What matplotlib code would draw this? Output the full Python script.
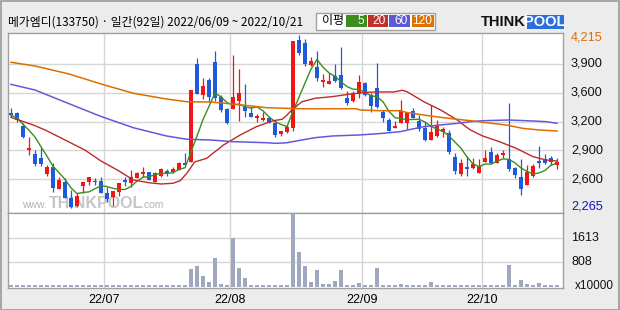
import numpy as np
import pandas as pd
import matplotlib
matplotlib.use('Agg')
import matplotlib.pyplot as plt
from matplotlib.patches import Rectangle
from matplotlib.transforms import blended_transform_factory

# ---------------- data ----------------
title = "메가엠디(133750) · 일간(92일) 2022/06/09 ~ 2022/10/21"
month_labels = ["22/07", "22/08", "22/09", "22/10"]
month_start_idx = [16, 37, 59, 79]

opens = [3335, 3335, 3195, 2915, 2875, 2825, 2650, 2730, 2480, 2560,
         2375, 2285, 2515, 2560, 2570, 2570, 2440, 2390, 2450, 2580,
         2545, 2605, 2650, 2670, 2560, 2630, 2680, 2670, 2695, 2770,
         2785, 3890, 3540, 3710, 3910, 3515, 3380, 3385, 3470, 3405,
         3335, 3285, 3255, 3285, 3225, 3100, 3125, 3170, 4160, 4120,
         3875, 3855, 3685, 3660, 3750, 3765, 3500, 3475, 3545, 3670,
         3535, 3615, 3345, 3255, 3170, 3225, 3225, 3360, 3250, 3170,
         3030, 3075, 3125, 3105, 2845, 2650, 2730, 2715, 2665, 2785,
         2895, 2775, 2865, 2820, 2715, 2615, 2530, 2625, 2795, 2820,
         2830, 2745]
highs = [3390, 3350, 3220, 3070, 2920, 2940, 2750, 2770, 2620, 2600,
         2470, 2430, 2555, 2615, 2605, 2615, 2505, 2455, 2550, 2620,
         2695, 2675, 2730, 2675, 2675, 2715, 2700, 2730, 2785, 2880,
         3595, 3955, 3725, 3725, 4035, 3540, 3390, 3990, 3830, 3665,
         3400, 3325, 3350, 3300, 3255, 3135, 3200, 4145, 4215, 4165,
         3965, 4035, 3775, 3785, 3890, 4075, 3585, 3585, 3765, 3690,
         3560, 3905, 3370, 3275, 3250, 3480, 3350, 3390, 3315, 3240,
         3425, 3255, 3180, 3145, 2880, 2815, 2850, 2825, 2815, 2920,
         2955, 2880, 2920, 3450, 2730, 2815, 2750, 2760, 2965, 2875,
         2850, 2830]
lows = [3290, 3240, 3055, 2865, 2740, 2740, 2625, 2450, 2480, 2380,
        2265, 2280, 2430, 2525, 2525, 2435, 2335, 2290, 2405, 2515,
        2505, 2605, 2620, 2580, 2560, 2620, 2625, 2655, 2695, 2755,
        2785, 3545, 3490, 3465, 3470, 3350, 3210, 3385, 3250, 3295,
        3295, 3240, 3250, 3220, 3070, 3075, 3105, 3135, 3990, 3865,
        3865, 3695, 3630, 3660, 3690, 3605, 3425, 3465, 3500, 3525,
        3350, 3390, 3240, 3135, 3165, 3225, 3150, 3275, 3135, 3020,
        3030, 3070, 3070, 2870, 2645, 2630, 2630, 2700, 2665, 2785,
        2760, 2775, 2825, 2685, 2605, 2410, 2530, 2620, 2715, 2760,
        2750, 2700]
closes = [3310, 3255, 3060, 2940, 2760, 2760, 2725, 2495, 2580, 2380,
          2280, 2405, 2555, 2615, 2560, 2440, 2365, 2455, 2550, 2560,
          2615, 2660, 2675, 2585, 2665, 2700, 2655, 2710, 2775, 2755,
          3595, 3545, 3640, 3520, 3510, 3370, 3225, 3515, 3560, 3360,
          3295, 3300, 3285, 3225, 3090, 3135, 3180, 4145, 4015, 3890,
          3920, 3725, 3710, 3695, 3695, 3620, 3450, 3560, 3680, 3540,
          3415, 3405, 3275, 3135, 3190, 3360, 3345, 3285, 3150, 3030,
          3120, 3190, 3150, 2900, 2680, 2775, 2700, 2760, 2740, 2830,
          2770, 2865, 2890, 2710, 2635, 2485, 2670, 2740, 2775, 2775,
          2780, 2780]
volumes = [35, 35, 35, 35, 35, 35, 35, 35, 35, 35,
           35, 35, 35, 35, 35, 35, 35, 35, 35, 35,
           35, 35, 35, 35, 35, 35, 35, 35, 35, 35,
           585, 685, 350, 150, 950, 85, 50, 1620, 620, 285,
           50, 50, 35, 35, 35, 35, 35, 2420, 1150, 685,
           150, 550, 85, 85, 185, 550, 50, 50, 115, 50,
           50, 620, 50, 50, 50, 85, 35, 35, 35, 35,
           150, 50, 35, 50, 50, 35, 35, 35, 35, 35,
           35, 35, 35, 720, 50, 215, 85, 35, 115, 35,
           35, 35]

# moving averages (index, price)
ma20_idx = [0, 3.7, 5.7, 9, 12.3, 15, 17.7, 20.4, 23, 25, 27, 28.2, 29.3, 30.6,
            32.6, 35.4, 38.2, 40.9, 43.7, 45.2, 46, 46.8, 48.5, 50.7, 53.5, 56.3,
            59.1, 61.3, 63.8, 65.2, 66, 68.8, 71.6, 74.4, 75.8, 76.6, 78.6, 81.4,
            84.2, 87, 89.2, 91]
ma20_val = [3287, 3201, 3144, 3032, 2919, 2795, 2694, 2581, 2550, 2536, 2544, 2573,
            2656, 2784, 2825, 2975, 3088, 3182, 3249, 3265, 3313, 3370, 3463, 3502,
            3520, 3547, 3569, 3573, 3573, 3592, 3576, 3463, 3370, 3257, 3182, 3144,
            3077, 3013, 2938, 2844, 2806, 2795]
ma60_idx = [0, 4, 10, 15, 20.4, 25.9, 29.3, 33.2, 37, 42.6, 44.3, 46, 48, 50.7,
            53.6, 57.9, 61.3, 64.8, 66.5, 68.8, 71.6, 74.4, 76.6, 78.6, 83, 87,
            89.2, 91]
ma60_val = [3659, 3595, 3432, 3297, 3170, 3077, 3040, 3032, 3013, 3001, 2994, 3001,
            3026, 3058, 3077, 3088, 3103, 3125, 3150, 3182, 3201, 3220, 3238, 3249,
            3257, 3246, 3238, 3220]
ma120_idx = [0, 4, 9.7, 15, 20.4, 25.9, 29.3, 33.2, 37, 42.6, 48.2, 53.7, 57.6,
             58.2, 61.5, 64.8, 66, 68.8, 71.6, 74.4, 76.6, 79.2, 82.5, 85.3, 88.1, 91]
ma120_val = [3907, 3866, 3775, 3663, 3558, 3494, 3463, 3460, 3437, 3396, 3384, 3384,
             3384, 3370, 3362, 3362, 3341, 3313, 3287, 3265, 3249, 3227, 3201, 3163,
             3144, 3133]

price_min, price_max = 2265, 4215
vol_ticks = [808, 1613]
legend_items = ["5", "20", "60", "120"]

# ---------------- style ----------------
W, H = 620, 310
UP, DN = '#f01616', '#1e5ade'
C5, C20, C60, C120 = '#3c8c1e', '#be2a2a', '#6459dc', '#dc6e00'
GRID = '#d6d6d6'
NUMFONT = ['Liberation Sans', 'DejaVu Sans']
KFONT = ['Noto Sans CJK KR', 'DejaVu Sans']
LABEL_X = 571 / W

fig = plt.figure(figsize=(W / 100, H / 100), dpi=100, facecolor='#ececec')


def fbox(x0, y0, x1, y1):
    return [x0 / W, 1 - y1 / H, (x1 - x0) / W, (y1 - y0) / H]


ax = fig.add_axes(fbox(8, 33, 563, 213))
axv = fig.add_axes(fbox(8, 213, 563, 288), sharex=ax)

n = len(closes)
x = np.arange(n)
o = np.array(opens, float)
h = np.array(highs, float)
l = np.array(lows, float)
c = np.array(closes, float)
cols = [UP if cc >= oo else DN for oo, cc in zip(o, c)]

# wicks and bodies
ax.vlines(x, l, h, colors=cols, lw=0.9, zorder=3)
body = np.abs(c - o)
bh = np.maximum(body, 18)
bb = np.minimum(o, c) - (bh - body) / 2
ax.bar(x, bh, bottom=bb, width=0.7, color=cols, lw=0, zorder=3)

# moving averages
ma5 = pd.Series(closes).rolling(5, min_periods=1).mean()
ax.plot(x, ma5, color=C5, lw=1.0, zorder=4)
ax.plot(ma20_idx, ma20_val, color=C20, lw=1.0, zorder=4)
ax.plot(ma60_idx, ma60_val, color=C60, lw=1.1, zorder=4)
ax.plot(ma120_idx, ma120_val, color=C120, lw=1.1, zorder=4)

ax.set_xlim(-0.5, 92)
ax.set_ylim(2209, 4237.5)

grid_vals = np.linspace(price_min, price_max, 7)[1:-1]
grid_labels = [f"{int(round(v, -2)):,}" for v in grid_vals]
ax.set_yticks(grid_vals)
ax.tick_params(axis='y', length=0, labelleft=False, labelright=False)
month_pos = [m - 0.5 for m in month_start_idx]
ax.set_xticks(month_pos)
ax.tick_params(axis='x', length=0, labelbottom=False)
ax.grid(True, color=GRID, lw=1.0, zorder=0)
ax.set_axisbelow(True)

tp = blended_transform_factory(fig.transFigure, ax.transData)
for v, lab in zip(grid_vals, grid_labels):
    fig.text(LABEL_X, v, lab, transform=tp, va='center', ha='left',
             fontsize=9.2, family=NUMFONT, color='#111111')
fig.text(LABEL_X, price_max - 25, f"{price_max:,}", transform=tp, va='center', ha='left',
         fontsize=9.2, family=NUMFONT, color='#dc6e00')
fig.text(LABEL_X, price_min + 15, f"{price_min:,}", transform=tp, va='center', ha='left',
         fontsize=9.2, family=NUMFONT, color='#1414c8')


# watermark
def axfrac(px, py):
    return ((px - 8) / 555, (213 - py) / 180)


ax.text(*axfrac(22, 204.5), "www.", transform=ax.transAxes, fontsize=7.5,
        color='#b4b4b4', va='center', ha='left', zorder=1, family=NUMFONT)
ax.text(*axfrac(49, 203), "THINKPOOL", transform=ax.transAxes, fontsize=11.5,
        fontweight='bold', color='#c6c6c6', va='center', ha='left', zorder=1,
        family=NUMFONT)
ax.text(*axfrac(141, 204.5), ".com", transform=ax.transAxes, fontsize=7.5,
        color='#b4b4b4', va='center', ha='left', zorder=1, family=NUMFONT)

# volume
axv.bar(x, volumes, width=0.78, color='#a0a8c0', lw=0, zorder=3)
axv.set_ylim(-50, 2455)
axv.set_yticks(vol_ticks)
axv.tick_params(axis='y', length=0, labelleft=False, labelright=False)
axv.set_xticks(month_pos)
axv.set_xticklabels(month_labels)
axv.tick_params(axis='x', length=0, pad=4, labelsize=9)
for t in axv.get_xticklabels():
    t.set_family(NUMFONT)
axv.grid(True, color=GRID, lw=1.0, zorder=0)
axv.set_axisbelow(True)
tv = blended_transform_factory(fig.transFigure, axv.transData)
for v in vol_ticks:
    fig.text(LABEL_X, v, str(v), transform=tv, va='center', ha='left',
             fontsize=9, family=NUMFONT, color='#111111')
fig.text(575 / W, 1 - 286 / H, "x10000", va='center', ha='left', fontsize=8.5,
         family=NUMFONT, color='#111111')

for a in (ax, axv):
    a.set_facecolor('white')
    for s in a.spines.values():
        s.set_color('#a0a0a0')
        s.set_linewidth(1.0)

# title
fig.text(8 / W, 1 - 22 / H, title, fontsize=8.5, family=KFONT, va='center', ha='left')


# legend box
def frect(x0, y0, x1, y1, **kw):
    fig.add_artist(Rectangle((x0 / W, 1 - y1 / H), (x1 - x0) / W, (y1 - y0) / H,
                             transform=fig.transFigure, **kw))


frect(315.5, 12.5, 435, 29.5, facecolor='white', edgecolor='#a0a0a0', lw=1)
fig.text(333 / W, 1 - 20.5 / H, "이평", fontsize=8.6, family=KFONT, va='center', ha='center')
boxes = [(346, 366.5), (367.5, 388), (389.5, 410), (411.5, 433.5)]
for (bx0, bx1), lab, col in zip(boxes, legend_items, [C5, '#c0302b', '#5c5ad8', '#e07000']):
    frect(bx0, 15, bx1, 27, facecolor=col, edgecolor='none')
    fig.text((bx1 - 2) / W, 1 - 21.3 / H, lab, fontsize=8.6, color='white',
             family=NUMFONT, va='center', ha='right')

# logo
fig.text(481 / W, 1 - 22 / H, "THINK", fontsize=10.5, fontweight='bold', color='#111111',
         family=NUMFONT, va='center', ha='left')
frect(526.5, 15, 563.5, 28.5, facecolor='#2a6fdc', edgecolor='none')
fig.text(545 / W, 1 - 22 / H, "POOL", fontsize=10.5, fontweight='bold', color='white',
         family=NUMFONT, va='center', ha='center')

# outer frame
fig.add_artist(Rectangle((0.5 / W, 0.5 / H), (W - 1.5) / W, (H - 1.5) / H,
                         transform=fig.transFigure, fill=False, ec='#9a9a9a', lw=1.2))

fig.savefig('out.png', dpi=100, facecolor=fig.get_facecolor())
